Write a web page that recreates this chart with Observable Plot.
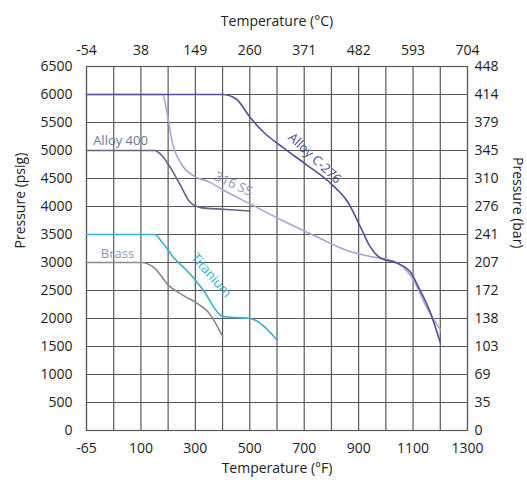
<!DOCTYPE html>
<html>
<head>
<meta charset="utf-8">
<script src="https://cdn.jsdelivr.net/npm/d3@7"></script>
<script src="https://cdn.jsdelivr.net/npm/@observablehq/plot@0.6"></script>
<style>
  html, body { margin: 0; padding: 0; background: #fff; }
</style>
</head>
<body>
<div id="chart"></div>
<script>
// Temperature axis (°F positions) and labels
const fTicks = [-100, 100, 300, 500, 700, 900, 1100, 1300];
const fLabels = ["-65", "100", "300", "500", "700", "900", "1100", "1300"];
const cLabels = ["-54", "38", "149", "260", "371", "482", "593", "704"];
const fGrid = [-100, 0, 100, 200, 300, 400, 500, 600, 700, 800, 900, 1000, 1100, 1200, 1300];
// Pressure axis
const psiTicks = [0, 500, 1000, 1500, 2000, 2500, 3000, 3500, 4000, 4500, 5000, 5500, 6000, 6500];
const barLabels = ["0", "35", "69", "103", "138", "172", "207", "241", "276", "310", "345", "379", "414", "448"];

// Series (°F, psig)
const c276F = [-100, 400, 450, 500, 550, 620, 710, 800, 860, 910, 940, 980, 1040, 1090, 1120, 1160, 1200];
const c276P = [6000, 6000, 5920, 5600, 5330, 5060, 4740, 4400, 4080, 3600, 3300, 3080, 2990, 2830, 2560, 2150, 1570];
const ss316F = [-100, 180, 195, 215, 250, 300, 350, 400, 500, 620, 750, 860, 950, 1000, 1050, 1100, 1150, 1200];
const ss316P = [6000, 6000, 5700, 5150, 4750, 4530, 4440, 4300, 4050, 3750, 3450, 3210, 3100, 3060, 2970, 2700, 2200, 1800];
const a400F = [-100, 150, 175, 210, 245, 280, 320, 400, 500];
const a400P = [5000, 5000, 4920, 4680, 4380, 4080, 3980, 3950, 3920];
const brassF = [-100, 100, 150, 200, 260, 310, 350, 400];
const brassP = [3000, 3000, 2900, 2600, 2400, 2260, 2100, 1680];
const tiF = [-100, 150, 175, 220, 280, 330, 395, 410, 500, 600];
const tiP = [3500, 3500, 3380, 3090, 2800, 2500, 2050, 2030, 2000, 1620];

const seriesNames = ["316 SS", "Alloy 400", "Brass", "Titanium", "Alloy C-276"];
const seriesColors = ["#a6a6da", "#62628a", "#8a8a8a", "#36b2cc", "#52529c"];

// Series labels
const labelText = ["Alloy 400", "316 SS", "Alloy C-276", "Titanium", "Brass"];
const labelF = [25, 440, 738, 358, 14];
const labelP = [5180, 4400, 4860, 2770, 3160];
const labelRotate = [0, 25, 43, 49, 0];
const labelColor = ["#6a7898", "#8a90c8", "#4a4a90", "#30b0cc", "#8a98c0"];

const seriesF = [ss316F, a400F, brassF, tiF, c276F];
const seriesP = [ss316P, a400P, brassP, tiP, c276P];
const lines = seriesNames.map((name, s) =>
  Plot.line(seriesF[s].map((f, i) => ({f, p: seriesP[s][i]})), {
    x: "f", y: "p", stroke: seriesColors[s], strokeWidth: 1.6, curve: "monotone-x"
  })
);
const labels = labelText.map((t, i) => ({t, f: labelF[i], p: labelP[i], r: labelRotate[i], c: labelColor[i]}));

const chart = Plot.plot({
  width: 527,
  height: 485,
  marginLeft: 86,
  marginRight: 60,
  marginTop: 66,
  marginBottom: 55,
  x: {domain: [-100, 1300]},
  y: {domain: [0, 6500]},
  style: {fontFamily: "Open Sans", fontSize: "14px", color: "#222", background: "#fff"},
  marks: [
    Plot.gridX(fGrid, {stroke: "#5a5a5a", strokeOpacity: 1, strokeWidth: 1.2}),
    Plot.gridY(psiTicks, {stroke: "#5a5a5a", strokeOpacity: 1, strokeWidth: 1.2}),
    Plot.frame({stroke: "#5a5a5a", strokeWidth: 1.2}),
    Plot.axisX({anchor: "bottom", ticks: fTicks, tickFormat: d => fLabels[fTicks.indexOf(d)], tickSize: 0, tickPadding: 13, label: null, fill: "#222"}),
    Plot.axisX({anchor: "top", ticks: fTicks, tickFormat: d => cLabels[fTicks.indexOf(d)], tickSize: 0, tickPadding: 12, label: null, fill: "#222"}),
    Plot.axisY({anchor: "left", ticks: psiTicks, tickFormat: d => String(d), tickSize: 0, tickPadding: 14, label: null, fill: "#222"}),
    Plot.axisY({anchor: "right", ticks: psiTicks, tickFormat: d => barLabels[psiTicks.indexOf(d)], tickSize: 0, tickPadding: 7, label: null, fill: "#222"}),
    ...lines,
    Plot.text(labels, {x: "f", y: "p", text: "t", rotate: "r", fill: "c", fontSize: 13}),
    Plot.text(["Temperature (°C)"], {text: d => d, frameAnchor: "top", dy: -50, fill: "#222"}),
    Plot.text(["Temperature (°F)"], {text: d => d, frameAnchor: "bottom", dy: 42, fill: "#222"}),
    Plot.text(["Pressure (psig)"], {text: d => d, frameAnchor: "left", dx: -66, rotate: -90, fill: "#222"}),
    Plot.text(["Pressure (bar)"], {text: d => d, frameAnchor: "right", dx: 50, rotate: 90, fill: "#222"})
  ]
});
document.getElementById("chart").appendChild(chart);
</script>
</body>
</html>
